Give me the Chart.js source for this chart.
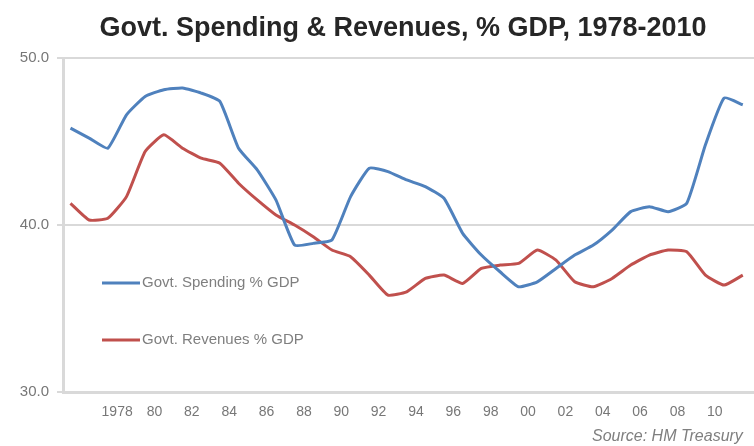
<!DOCTYPE html>
<html>
<head>
<meta charset="utf-8">
<title>Govt. Spending & Revenues</title>
<script src="https://cdn.jsdelivr.net/npm/chart.js@4.4.1/dist/chart.umd.min.js"></script>
<style>
    html, body { margin: 0; padding: 0; background: #fff; }
    #wrap { width: 754px; height: 446px; }
</style>
</head>
<body>
<div id="wrap"><canvas id="chart"></canvas></div>
<script>
// Fiscal years (start year), plotted mid-year
const years = [1975, 1976, 1977, 1978, 1979, 1980, 1981, 1982, 1983, 1984,
    1985, 1986, 1987, 1988, 1989, 1990, 1991, 1992, 1993, 1994,
    1995, 1996, 1997, 1998, 1999, 2000, 2001, 2002, 2003, 2004,
    2005, 2006, 2007, 2008, 2009, 2010, 2011];

const spending = [45.8, 45.2, 44.6, 46.6, 47.7, 48.1, 48.2, 47.9, 47.4, 44.6,
    43.3, 41.5, 38.8, 38.9, 39.1, 41.7, 43.4, 43.2, 42.7, 42.3,
    41.6, 39.5, 38.2, 37.2, 36.3, 36.6, 37.4, 38.2, 38.8, 39.7,
    40.8, 41.1, 40.8, 41.3, 44.8, 47.6, 47.2];

const revenues = [41.3, 40.3, 40.4, 41.7, 44.4, 45.4, 44.6, 44.0, 43.7, 42.5,
    41.5, 40.6, 40.0, 39.3, 38.5, 38.1, 37.0, 35.8, 36.0, 36.8,
    37.0, 36.5, 37.4, 37.6, 37.7, 38.5, 37.9, 36.6, 36.3, 36.8,
    37.6, 38.2, 38.5, 38.4, 37.0, 36.4, 37.0];

const xTickYears = [1978, 1980, 1982, 1984, 1986, 1988, 1990, 1992, 1994,
    1996, 1998, 2000, 2002, 2004, 2006, 2008, 2010];
const xTickLabels = ['1978', '80', '82', '84', '86', '88', '90', '92', '94',
    '96', '98', '00', '02', '04', '06', '08', '10'];
const yTicks = [30, 40, 50];

const seriesNames = ['Govt. Spending % GDP', 'Govt. Revenues % GDP'];
const titleText = 'Govt. Spending & Revenues, % GDP, 1978-2010';
const sourceText = 'Source: HM Treasury';

const FONT = '"Liberation Sans", Arial, sans-serif';

const toPoints = (vals) => vals.map((v, i) => ({ x: years[i] + 0.5, y: v }));

// title, inline legend and source note
const annotations = {
    id: 'annotations',
    afterDraw(chart) {
        const ctx = chart.ctx;
        const area = chart.chartArea;
        ctx.save();

        ctx.fillStyle = '#262626';
        ctx.font = 'bold 27px ' + FONT;
        ctx.textAlign = 'center';
        ctx.textBaseline = 'middle';
        ctx.fillText(titleText, 403, 29);

        const legendY = [283, 340];
        ctx.font = '15px ' + FONT;
        ctx.textAlign = 'left';
        chart.data.datasets.forEach((ds, i) => {
            const y = legendY[i];
            ctx.strokeStyle = ds.borderColor;
            ctx.lineWidth = 3;
            ctx.beginPath();
            ctx.moveTo(area.left + 39, y);
            ctx.lineTo(area.left + 77, y);
            ctx.stroke();
            ctx.fillStyle = '#7f7f7f';
            ctx.fillText(ds.label, area.left + 79, y);
        });

        ctx.font = 'italic 16px ' + FONT;
        ctx.fillStyle = '#7f7f7f';
        ctx.fillText(sourceText, 592, 437);
        ctx.restore();
    }
};

new Chart(document.getElementById('chart'), {
    type: 'line',
    data: {
        datasets: [
            {
                label: seriesNames[0],
                data: toPoints(spending),
                borderColor: '#4f81bd',
                borderWidth: 3,
                pointRadius: 0,
                tension: 0.15,
                fill: false
            },
            {
                label: seriesNames[1],
                data: toPoints(revenues),
                borderColor: '#c0504d',
                borderWidth: 3,
                pointRadius: 0,
                tension: 0.15,
                fill: false
            }
        ]
    },
    options: {
        responsive: true,
        maintainAspectRatio: false,
        animation: false,
        layout: { padding: { top: 58, right: 0, bottom: 0, left: 0 } },
        plugins: {
            legend: { display: false },
            title: { display: false },
            tooltip: { enabled: false }
        },
        scales: {
            x: {
                type: 'linear',
                min: 1975.1,
                max: 2012.1,
                afterBuildTicks(scale) {
                    scale.ticks = xTickYears.map(v => ({ value: v }));
                },
                afterFit(scale) { scale.height = 54; },
                ticks: {
                    autoSkip: false,
                    maxRotation: 0,
                    padding: 12,
                    color: '#777',
                    font: { size: 14, family: FONT },
                    callback: (v) => xTickLabels[xTickYears.indexOf(v)]
                },
                grid: { display: false, drawTicks: false },
                border: { display: true, color: '#d9d9d9', width: 3 }
            },
            y: {
                min: 30,
                max: 50,
                afterBuildTicks(scale) {
                    scale.ticks = yTicks.map(v => ({ value: v }));
                },
                afterFit(scale) { scale.width = 63; },
                ticks: {
                    padding: 8,
                    color: '#777',
                    font: { size: 15, family: FONT },
                    callback: (v) => v.toFixed(1)
                },
                grid: { color: '#d9d9d9', lineWidth: 2, tickLength: 6 },
                border: { display: true, color: '#d9d9d9', width: 3 }
            }
        }
    },
    plugins: [annotations]
});
</script>
</body>
</html>
